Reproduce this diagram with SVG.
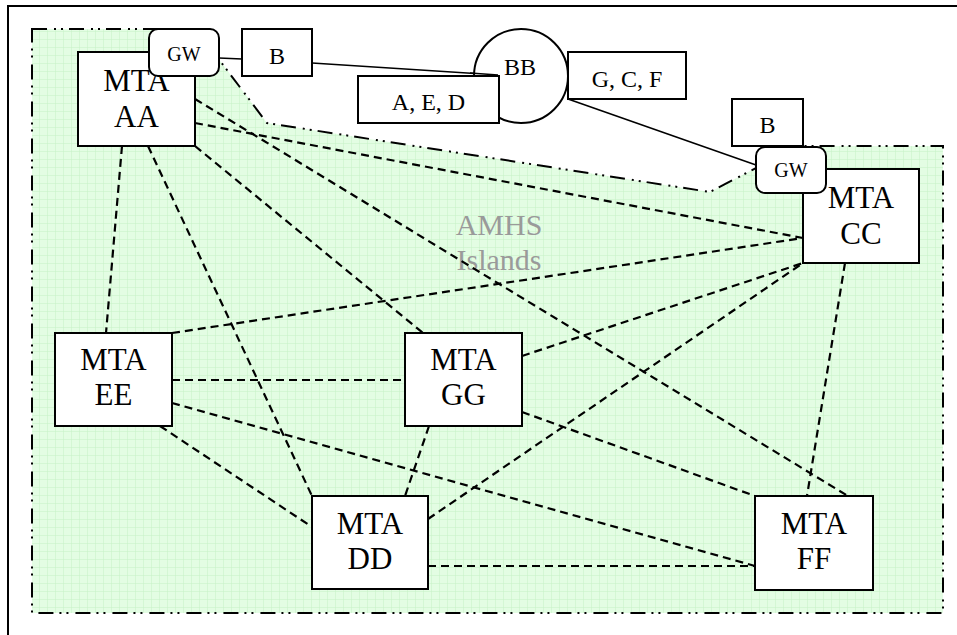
<svg xmlns="http://www.w3.org/2000/svg" width="957" height="635" viewBox="0 0 957 635">
  <style>
    .box { fill: #ffffff; stroke: #000000; stroke-width: 2; }
    .gw { fill: #ffffff; stroke: #000000; stroke-width: 2; }
    .link { fill: none; stroke: #000000; stroke-width: 2.2; stroke-dasharray: 8 5; }
    .wire { fill: none; stroke: #000000; stroke-width: 1.6; }
    .lbl { font-family: "Liberation Serif", "Times New Roman", serif; fill: #000000; text-anchor: middle; }
    .mta { font-size: 31px; }
    .small { font-size: 24px; }
    .gwt { font-size: 20px; }
    .island { font-family: "Liberation Serif", "Times New Roman", serif; font-size: 30px; fill: #9a9a9a; text-anchor: middle; }
  </style>
  <defs>
    <pattern id="grid" width="8" height="8" patternUnits="userSpaceOnUse">
      <rect width="8" height="8" fill="#e3fde3"/>
      <path d="M8 0V8H0" fill="none" stroke="#c6f2c6" stroke-width="1"/>
    </pattern>
  </defs>

  <rect width="957" height="635" fill="#ffffff"/>

  <!-- page frame -->
  <rect x="8" y="6" width="960" height="640" fill="none" stroke="#000000" stroke-width="2"/>

  <!-- island area -->
  <g id="island">
    <path d="M32 29 L196 29 L267 123 L710 192 L798 146 L943 146 L943 613 L32 613 Z"
          fill="url(#grid)" stroke="#000000" stroke-width="2" stroke-dasharray="15 7 2 5 2 6"/>
    <text class="island" x="499" y="235">AMHS</text>
    <text class="island" x="499" y="270">Islands</text>
  </g>

  <!-- dashed links between MTAs -->
  <g id="connectors">
    <line class="link" x1="122" y1="146" x2="106" y2="333"/>
    <line class="link" x1="148" y1="146" x2="312" y2="496"/>
    <line class="link" x1="195" y1="146" x2="423" y2="333"/>
    <line class="link" x1="195" y1="99" x2="848" y2="496"/>
    <line class="link" x1="195" y1="123" x2="803" y2="238"/>
    <line class="link" x1="172" y1="333" x2="803" y2="238"/>
    <line class="link" x1="172" y1="380" x2="405" y2="380"/>
    <line class="link" x1="172" y1="403" x2="755" y2="566"/>
    <line class="link" x1="160" y1="426" x2="312" y2="527"/>
    <line class="link" x1="429" y1="426" x2="405" y2="496"/>
    <line class="link" x1="522" y1="356" x2="803" y2="263"/>
    <line class="link" x1="428" y1="519" x2="803" y2="263"/>
    <line class="link" x1="522" y1="412" x2="755" y2="496"/>
    <line class="link" x1="845" y1="263" x2="807" y2="496"/>
    <line class="link" x1="428" y1="566" x2="755" y2="566"/>
    <!-- gateway / backbone wiring -->
    <line class="wire" x1="219" y1="58" x2="242" y2="59"/>
    <line class="wire" x1="312" y1="63" x2="498" y2="75"/>
    <line class="wire" x1="568" y1="99" x2="756" y2="165"/>
  </g>

  <g id="bb">
    <circle cx="521" cy="76" r="47" fill="#ffffff" stroke="#000000" stroke-width="2"/>
    <text class="lbl small" x="520" y="75">BB</text>
  </g>
  <!-- wire end drawn over the circle outline -->
  <line class="wire" x1="470" y1="73" x2="498" y2="75"/>

  <g id="aed">
    <rect class="box" x="358" y="76" width="141" height="47"/>
    <text class="lbl small" x="428.5" y="110">A, E, D</text>
  </g>
  <g id="gcf">
    <rect class="box" x="568" y="52" width="118" height="47"/>
    <text class="lbl small" x="627" y="87">G, C, F</text>
  </g>
  <g id="b-left">
    <rect class="box" x="242" y="29" width="70" height="47"/>
    <text class="lbl small" x="277" y="64">B</text>
  </g>
  <g id="b-right">
    <rect class="box" x="732" y="99" width="71" height="47"/>
    <text class="lbl small" x="767.5" y="133">B</text>
  </g>

  <g id="mta-aa">
    <rect class="box" x="78" y="52" width="117" height="94"/>
    <text class="lbl mta" x="136.5" y="91">MTA</text>
    <text class="lbl mta" x="136.5" y="127">AA</text>
  </g>
  <g id="gw-aa">
    <rect class="gw" x="149" y="29" width="70" height="47" rx="9"/>
    <text class="lbl gwt" x="184" y="61">GW</text>
  </g>

  <g id="mta-cc">
    <rect class="box" x="803" y="169" width="116" height="94"/>
    <text class="lbl mta" x="861" y="208">MTA</text>
    <text class="lbl mta" x="861" y="244">CC</text>
  </g>
  <g id="gw-cc">
    <rect class="gw" x="756" y="147" width="70" height="46" rx="9"/>
    <text class="lbl gwt" x="791" y="177">GW</text>
  </g>

  <g id="mta-ee">
    <rect class="box" x="55" y="333" width="117" height="93"/>
    <text class="lbl mta" x="113.5" y="370">MTA</text>
    <text class="lbl mta" x="113.5" y="405">EE</text>
  </g>
  <g id="mta-gg">
    <rect class="box" x="405" y="333" width="117" height="93"/>
    <text class="lbl mta" x="463.5" y="370">MTA</text>
    <text class="lbl mta" x="463.5" y="405">GG</text>
  </g>
  <g id="mta-dd">
    <rect class="box" x="312" y="496" width="116" height="93"/>
    <text class="lbl mta" x="370" y="534">MTA</text>
    <text class="lbl mta" x="370" y="569">DD</text>
  </g>
  <g id="mta-ff">
    <rect class="box" x="755" y="496" width="118" height="94"/>
    <text class="lbl mta" x="814" y="534">MTA</text>
    <text class="lbl mta" x="814" y="569">FF</text>
  </g>
</svg>
